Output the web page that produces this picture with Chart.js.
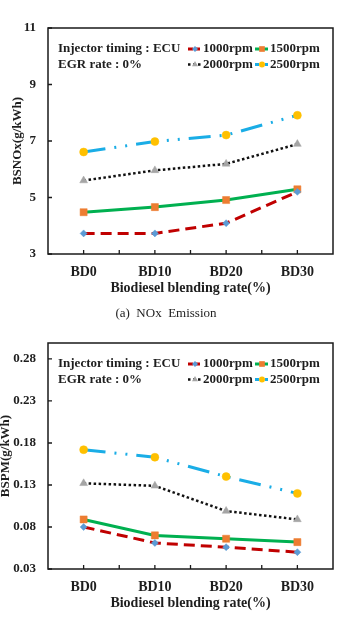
<!DOCTYPE html>
<html><head><meta charset="utf-8">
<script src="https://cdn.jsdelivr.net/npm/chart.js@4"></script>
<style>
html,body{margin:0;padding:0;background:#fff;}
body{width:340px;height:623px;position:relative;overflow:hidden;font-family:'Liberation Serif',serif;}
.wrap{position:absolute;left:0;width:340px;height:300px;}
#w1{top:0}
#w2{top:315px}
.cap{position:absolute;left:-4px;width:340px;text-align:center;font-size:13px;color:#222;white-space:pre;z-index:2;line-height:15px;}
</style></head><body>
<div class="wrap" id="w1"><canvas id="c1" width="340" height="300"></canvas></div>
<div class="wrap" id="w2"><canvas id="c2" width="340" height="300"></canvas></div>
<div class="cap" style="top:305px">(a)  NOx  Emission</div>
<div class="cap" style="top:620px">(b)  PM  Emission</div>
<script>
// ---- data ----
const categories = ['BD0', 'BD10', 'BD20', 'BD30'];
const seriesLabels = ['1000rpm', '1500rpm', '2000rpm', '2500rpm'];
const nox1000 = [3.73, 3.73, 4.09, 5.20];
const nox1500 = [4.48, 4.66, 4.91, 5.29];
const nox2000 = [5.60, 5.96, 6.19, 6.89];
const nox2500 = [6.61, 6.98, 7.21, 7.91];
const pm1000 = [0.080, 0.061, 0.056, 0.050];
const pm1500 = [0.089, 0.070, 0.066, 0.062];
const pm2000 = [0.132, 0.129, 0.099, 0.089];
const pm2500 = [0.172, 0.163, 0.140, 0.120];
const noxTicks = [3, 5, 7, 9, 11];
const pmTicks = [0.03, 0.08, 0.13, 0.18, 0.23, 0.28];
const noteLines = ['Injector timing : ECU', 'EGR rate : 0%'];
const xTitle = 'Biodiesel blending rate(%)';

const F = 'Liberation Serif';
const TXT = '#1e1e1e';

const styles = [
  {line:'#C00000', dash:[11,6], width:3, ps:'rectRot', r:3.5, fill:'#5B9BD5'},
  {line:'#00B050', dash:[], width:3, ps:'rect', r:5, fill:'#ED7D31'},
  {line:'#111111', dash:[2.5,2.5], width:2.5, ps:'triangle', r:4.5, fill:'#A5A5A5'},
  {line:'#1AADE6', dash:[22,9,2,9,2,9], width:3, ps:'circle', r:4, fill:'#FFC000'}
];

function drawMarker(ctx, ps, x, y, r, fill){
  ctx.save();
  ctx.fillStyle = fill;
  ctx.beginPath();
  if (ps === 'rectRot') {
    ctx.moveTo(x - r, y); ctx.lineTo(x, y - r); ctx.lineTo(x + r, y); ctx.lineTo(x, y + r);
  } else if (ps === 'rect') {
    const s = r * Math.SQRT1_2; ctx.rect(x - s, y - s, 2 * s, 2 * s);
  } else if (ps === 'triangle') {
    let a = 0;
    ctx.moveTo(x + Math.sin(a) * r, y - Math.cos(a) * r);
    a += 2 * Math.PI / 3; ctx.lineTo(x + Math.sin(a) * r, y - Math.cos(a) * r);
    a += 2 * Math.PI / 3; ctx.lineTo(x + Math.sin(a) * r, y - Math.cos(a) * r);
  } else {
    ctx.arc(x, y, r, 0, Math.PI * 2);
  }
  ctx.closePath();
  ctx.fill();
  ctx.restore();
}

const framePlugin = {
  id: 'frame',
  beforeDatasetsDraw(chart) {
    const ctx = chart.ctx, a = chart.chartArea;
    const xs = chart.scales.x, ys = chart.scales.y;
    ctx.save();
    ctx.strokeStyle = '#1a1a1a';
    ctx.lineWidth = 1.5;
    ctx.strokeRect(a.left, a.top, a.right - a.left, a.bottom - a.top);
    ctx.lineWidth = 1.3;
    ctx.beginPath();
    for (let i = 0; i < categories.length; i++) {
      [i, i + 0.5].forEach(v => {
        const px = xs.getPixelForValue(v);
        if (px < a.right - 2) { ctx.moveTo(px, a.bottom); ctx.lineTo(px, a.bottom - 4); }
      });
    }
    ys.ticks.forEach(t => {
      const py = ys.getPixelForValue(t.value);
      ctx.moveTo(a.left, py); ctx.lineTo(a.left + 4, py);
    });
    ctx.stroke();
    ctx.restore();
  }
};

const legendPlugin = {
  id: 'leg',
  afterDatasetsDraw(chart) {
    const ctx = chart.ctx, a = chart.chartArea;
    ctx.save();
    ctx.font = 'bold 13px "' + F + '"';
    ctx.fillStyle = TXT;
    ctx.textBaseline = 'middle';
    ctx.textAlign = 'left';
    const r1 = a.top + 21, r2 = a.top + 36.5;
    ctx.fillText(noteLines[0], a.left + 10, r1);
    ctx.fillText(noteLines[1], a.left + 10, r2);
    chart.data.datasets.forEach((d, i) => {
      const st = styles[i];
      const col = i % 2, row = Math.floor(i / 2);
      const x0 = a.left + (col ? 207 : 140), y = row ? r2 : r1;
      ctx.strokeStyle = st.line; ctx.lineWidth = st.width;
      ctx.setLineDash(st.dash.length ? (i === 3 ? [4, 2, 2, 2] : (i === 0 ? [5, 2] : st.dash)) : []);
      ctx.beginPath(); ctx.moveTo(x0, y); ctx.lineTo(x0 + 13, y); ctx.stroke();
      ctx.setLineDash([]);
      drawMarker(ctx, st.ps, x0 + 7, y, Math.max(3, st.r - 1), st.fill);
      ctx.fillStyle = TXT;
      ctx.fillText(d.label, x0 + 15, y);
    });
    ctx.restore();
  }
};

function makeChart(id, sets, yMin, yMax, ticks, yTitle, fmt, titlePad) {
  return new Chart(document.getElementById(id), {
    type: 'line',
    data: {
      labels: categories,
      datasets: sets.map((vals, i) => ({
        label: seriesLabels[i],
        data: vals,
        borderColor: styles[i].line,
        borderWidth: styles[i].width,
        borderDash: styles[i].dash,
        tension: 0,
        fill: false,
        pointStyle: styles[i].ps,
        pointRadius: styles[i].r,
        pointBackgroundColor: styles[i].fill,
        pointBorderColor: styles[i].fill,
        pointBorderWidth: 0.5
      }))
    },
    options: {
      responsive: false,
      animation: false,
      events: [],
      layout: {padding: {top: 28, right: 7, left: 0, bottom: 0}},
      plugins: {legend: {display: false}, tooltip: {enabled: false}},
      scales: {
        x: {
          offset: true,
          grid: {display: false, drawTicks: false},
          border: {display: false},
          ticks: {font: {family: F, size: 14, weight: 'bold'}, color: TXT, padding: 10, maxRotation: 0},
          title: {display: true, text: xTitle, font: {family: F, size: 14, weight: 'bold'}, color: TXT, padding: {top: 0, bottom: 3}},
          afterFit(s) { s.height = 46; }
        },
        y: {
          min: yMin, max: yMax,
          grid: {display: false, drawTicks: false},
          border: {display: false},
          afterBuildTicks(s) { s.ticks = ticks.map(v => ({value: v})); },
          ticks: {font: {family: F, size: 13, weight: 'bold'}, color: TXT, padding: 12, callback: v => fmt(v)},
          title: {display: true, text: yTitle, font: {family: F, size: 13, weight: 'bold'}, color: TXT, padding: {top: titlePad, bottom: 0}},
          afterFit(s) { s.width = 48; }
        }
      }
    },
    plugins: [framePlugin, legendPlugin]
  });
}

makeChart('c1', [nox1000, nox1500, nox2000, nox2500], 3, 11, noxTicks, 'BSNOx(g/kWh)', v => String(v), 10);
makeChart('c2', [pm1000, pm1500, pm2000, pm2500], 0.03, 0.299, pmTicks, 'BSPM(g/kWh)', v => v.toFixed(2), -2);
</script>
</body></html>
